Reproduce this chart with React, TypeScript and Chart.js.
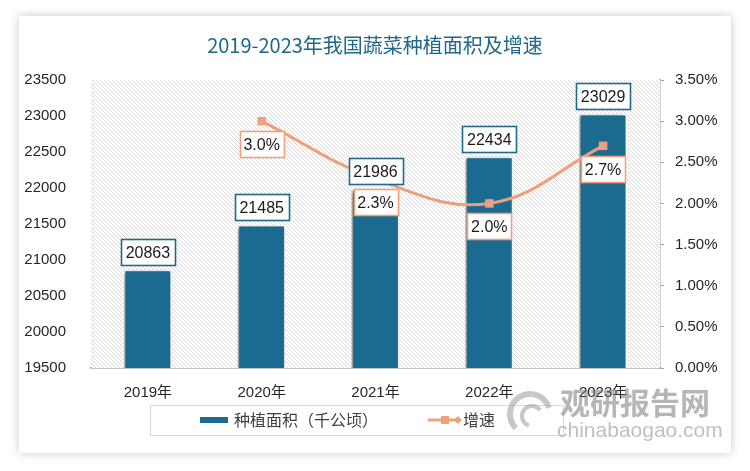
import React, { useEffect, useRef } from "react";
import { Chart, registerables } from "chart.js";

Chart.register(...registerables);

const categories = ["2019年", "2020年", "2021年", "2022年", "2023年"];
const areaValues = [20863, 21485, 21986, 22434, 23029];
const growthValues: (number | null)[] = [null, 3.0, 2.3, 2.0, 2.7];
const leftTicks = [19500, 20000, 20500, 21000, 21500, 22000, 22500, 23000, 23500];
const rightTicks = [0, 0.5, 1, 1.5, 2, 2.5, 3, 3.5];

const TITLE = "2019-2023年我国蔬菜种植面积及增速";
const BAR_LABEL = "种植面积（千公顷）";
const LINE_LABEL = "增速";

const BAR_COLOR = "#1b6a8f";
const LINE_COLOR = "#eea07c";
const SANS = '"Liberation Sans", "Noto Sans CJK SC", sans-serif';
const CJK = '"Noto Sans CJK SC", sans-serif';

function makeHatch(ctx: CanvasRenderingContext2D) {
  const c = document.createElement("canvas");
  c.width = 4;
  c.height = 4;
  const g = c.getContext("2d")!;
  g.fillStyle = "#ffffff";
  g.fillRect(0, 0, 4, 4);
  g.strokeStyle = "#cfcfcf";
  g.lineWidth = 0.8;
  g.beginPath();
  g.moveTo(-1, -1);
  g.lineTo(5, 5);
  g.moveTo(-1, 3);
  g.lineTo(1, 5);
  g.moveTo(3, -1);
  g.lineTo(5, 1);
  g.stroke();
  return ctx.createPattern(c, "repeat");
}

function box(ctx: CanvasRenderingContext2D, cx: number, top: number, w: number, h: number, border: string, text: string) {
  const x = Math.round(cx - w / 2) + 0.5;
  const y = Math.round(top) + 0.5;
  ctx.fillStyle = "#ffffff";
  ctx.fillRect(x, y, w, h);
  ctx.strokeStyle = border;
  ctx.lineWidth = 1.6;
  ctx.strokeRect(x, y, w, h);
  ctx.fillStyle = "#1a1a1a";
  ctx.font = `16px ${SANS}`;
  ctx.textAlign = "center";
  ctx.textBaseline = "middle";
  ctx.fillText(text, cx, y + h / 2 + 1);
}

const customPlugin = {
  id: "custom",
  beforeDatasetsDraw(chart: any) {
    const { ctx, chartArea } = chart;
    ctx.save();
    ctx.fillStyle = makeHatch(ctx);
    ctx.fillRect(chartArea.left, chartArea.top, chartArea.right - chartArea.left, chartArea.bottom - chartArea.top);
    ctx.restore();
  },
  beforeDatasetDraw(chart: any, args: any) {
    const ds = chart.data.datasets[args.index];
    if (ds.type === "bar") {
      const ctx = chart.ctx;
      ctx.save();
      ctx.shadowColor = "rgba(0,0,0,0.5)";
      ctx.shadowBlur = 4;
      ctx.shadowOffsetX = -2;
      ctx.shadowOffsetY = 1;
    }
  },
  afterDatasetDraw(chart: any, args: any) {
    const ds = chart.data.datasets[args.index];
    if (ds.type === "bar") chart.ctx.restore();
  },
  afterDatasetsDraw(chart: any) {
    const { ctx } = chart;
    ctx.save();
    const lineMeta = chart.getDatasetMeta(0);
    lineMeta.data.forEach((pt: any, i: number) => {
      const v = growthValues[i];
      if (v == null) return;
      box(ctx, pt.x, pt.y + 10, 44, 26, LINE_COLOR, v.toFixed(1) + "%");
    });
    const barMeta = chart.getDatasetMeta(1);
    barMeta.data.forEach((bar: any, i: number) => {
      box(ctx, bar.x, bar.y - 31, 54, 26, "#1f6a8c", String(areaValues[i]));
    });
    ctx.restore();
  },
  afterDraw(chart: any) {
    const { ctx } = chart;
    ctx.save();
    ctx.fillStyle = "#21678c";
    ctx.font = `20px ${CJK}`;
    ctx.textAlign = "center";
    ctx.textBaseline = "middle";
    ctx.fillText(TITLE, 375, 45);

    ctx.strokeStyle = "#d9d9d9";
    ctx.lineWidth = 1;
    ctx.strokeRect(150.5, 405.5, 413, 30);
    ctx.fillStyle = BAR_COLOR;
    ctx.fillRect(200, 417, 28, 6);
    ctx.fillStyle = "#404040";
    ctx.font = `16px ${CJK}`;
    ctx.textAlign = "left";
    ctx.textBaseline = "middle";
    ctx.fillText(BAR_LABEL, 234, 420);
    ctx.strokeStyle = LINE_COLOR;
    ctx.lineWidth = 3;
    ctx.beginPath();
    ctx.moveTo(428, 420);
    ctx.lineTo(458, 420);
    ctx.stroke();
    ctx.fillStyle = LINE_COLOR;
    ctx.fillRect(441, 416, 8, 8);
    ctx.beginPath();
    ctx.moveTo(458, 416);
    ctx.lineTo(462, 420);
    ctx.lineTo(458, 424);
    ctx.lineTo(454, 420);
    ctx.closePath();
    ctx.fill();
    ctx.fillStyle = "#404040";
    ctx.fillText(LINE_LABEL, 463, 420);

    ctx.globalAlpha = 0.55;
    ctx.strokeStyle = "#9a9a9a";
    ctx.lineWidth = 6;
    ctx.beginPath();
    ctx.arc(530, 414, 20, Math.PI * 0.75, Math.PI * 1.9);
    ctx.stroke();
    ctx.lineWidth = 4;
    ctx.beginPath();
    ctx.arc(532, 416, 10, Math.PI * 0.6, Math.PI * 1.8);
    ctx.stroke();
    ctx.fillStyle = "#7a7a7a";
    ctx.font = `bold 30px ${CJK}`;
    ctx.textAlign = "left";
    ctx.fillText("观研报告网", 560, 403);
    ctx.fillStyle = "#8a8a8a";
    ctx.font = `21px ${SANS}`;
    ctx.fillText("chinabaogao.com", 557, 431);
    ctx.restore();
  },
};

export default function App() {
  const ref = useRef<HTMLCanvasElement | null>(null);

  useEffect(() => {
    if (!ref.current) return;
    const chart = new Chart(ref.current, {
      type: "bar",
      data: {
        labels: categories,
        datasets: [
          {
            type: "line",
            label: LINE_LABEL,
            data: growthValues,
            yAxisID: "y1",
            borderColor: LINE_COLOR,
            backgroundColor: LINE_COLOR,
            borderWidth: 3,
            tension: 0.4,
            pointStyle: "rect",
            pointRadius: 6,
            pointBorderWidth: 0,
            order: 0,
          } as any,
          {
            type: "bar",
            label: BAR_LABEL,
            data: areaValues,
            yAxisID: "y",
            backgroundColor: BAR_COLOR,
            borderColor: "#ffffff",
            borderWidth: 1.5,
            categoryPercentage: 1,
            barPercentage: 0.42,
            order: 1,
          } as any,
        ],
      },
      options: {
        responsive: true,
        maintainAspectRatio: false,
        animation: false,
        layout: { padding: { top: 80, left: 0, right: 0, bottom: 0 } },
        plugins: { legend: { display: false }, tooltip: { enabled: false }, title: { display: false } },
        scales: {
          x: {
            grid: { display: false },
            border: { display: true, color: "#8c8c8c", width: 1.5 },
            ticks: { color: "#262626", font: { size: 15, family: SANS }, padding: 8 },
            afterFit: (s: any) => {
              s.height = 103;
            },
          },
          y: {
            position: "left",
            min: 19500,
            max: 23500,
            afterBuildTicks: (s: any) => {
              s.ticks = leftTicks.map((v) => ({ value: v }));
            },
            grid: { display: false },
            border: { display: false },
            ticks: {
              color: "#262626",
              font: { size: 15, family: SANS },
              padding: 17,
              callback: (v: any) => String(v),
            },
            afterFit: (s: any) => {
              s.width = 91;
            },
          },
          y1: {
            position: "right",
            min: 0,
            max: 3.5,
            afterBuildTicks: (s: any) => {
              s.ticks = rightTicks.map((v) => ({ value: v }));
            },
            grid: { drawOnChartArea: false, drawTicks: true, tickLength: 4, color: "#a6a6a6" },
            border: { display: true, color: "#a6a6a6", width: 1.5 },
            ticks: {
              color: "#262626",
              font: { size: 15, family: SANS },
              padding: 11,
              callback: (v: any) => Number(v).toFixed(2) + "%",
            },
            afterFit: (s: any) => {
              s.width = 90;
            },
          },
        },
      } as any,
      plugins: [customPlugin as any],
    });
    return () => chart.destroy();
  }, []);

  return (
    <div style={{ position: "fixed", left: 0, top: 0, width: 750, height: 471, background: "#ffffff", overflow: "hidden" }}>
      <div
        style={{
          position: "absolute",
          left: 19,
          top: 16,
          width: 712,
          height: 437,
          background: "#ffffff",
          boxShadow: "0 0 9px rgba(0,0,0,0.22)",
        }}
      />
      <div style={{ position: "absolute", left: 0, top: 0, width: 750, height: 471 }}>
        <canvas ref={ref} />
      </div>
    </div>
  );
}
